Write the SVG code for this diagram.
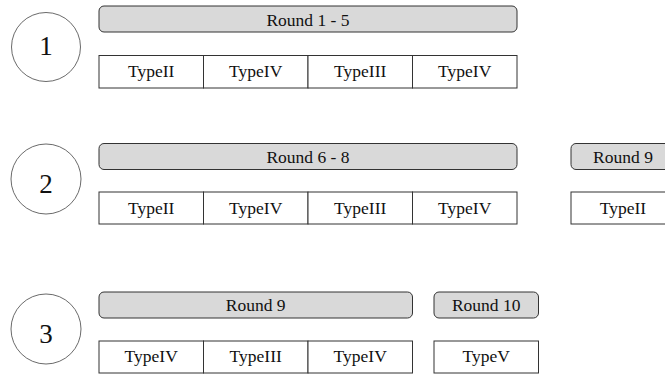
<svg xmlns="http://www.w3.org/2000/svg" width="665" height="375" viewBox="0 0 665 375">
<style>
.bar{fill:#d9d9d9;stroke:#333;stroke-width:1}
.cell{fill:#fff;stroke:#333;stroke-width:1}
.circ{fill:#fff;stroke:#444;stroke-width:0.8}
text{font-family:"Liberation Serif","Times New Roman",serif;fill:#111;text-anchor:middle}
.lbl{font-size:17.5px}
.num{font-size:27px}
</style>
<rect width="665" height="375" fill="#fff"/>
<g id="connectors"></g>
<g id="step1">
<circle class="circ" cx="46" cy="47" r="34.5"/>
<text class="num" x="46" y="55">1</text>
</g>
<g id="step2">
<circle class="circ" cx="46" cy="179" r="35"/>
<text class="num" x="46" y="193">2</text>
</g>
<g id="step3">
<circle class="circ" cx="46" cy="329" r="35"/>
<text class="num" x="46" y="343">3</text>
</g>
<g id="row1-bar">
<rect class="bar" x="99" y="6" width="418" height="26" rx="5"/>
<text class="lbl" x="308" y="26">Round 1 - 5</text>
</g>
<g id="row1-cells">
<rect class="cell" x="99" y="55.5" width="104.5" height="32.5"/>
<rect class="cell" x="203.5" y="55.5" width="104.5" height="32.5"/>
<rect class="cell" x="308" y="55.5" width="104.5" height="32.5"/>
<rect class="cell" x="412.5" y="55.5" width="104.5" height="32.5"/>
<text class="lbl" x="151.2" y="76.5">TypeII</text>
<text class="lbl" x="255.7" y="76.5">TypeIV</text>
<text class="lbl" x="360.2" y="76.5">TypeIII</text>
<text class="lbl" x="464.7" y="76.5">TypeIV</text>
</g>
<g id="row2-bar">
<rect class="bar" x="99" y="143.5" width="418" height="26" rx="5"/>
<text class="lbl" x="308" y="162.5">Round 6 - 8</text>
</g>
<g id="row2-cells">
<rect class="cell" x="99" y="192" width="104.5" height="32"/>
<rect class="cell" x="203.5" y="192" width="104.5" height="32"/>
<rect class="cell" x="308" y="192" width="104.5" height="32"/>
<rect class="cell" x="412.5" y="192" width="104.5" height="32"/>
<text class="lbl" x="151.2" y="213.5">TypeII</text>
<text class="lbl" x="255.7" y="213.5">TypeIV</text>
<text class="lbl" x="360.2" y="213.5">TypeIII</text>
<text class="lbl" x="464.7" y="213.5">TypeIV</text>
</g>
<g id="row2-round9">
<rect class="bar" x="571" y="143.5" width="104.5" height="26" rx="5"/>
<text class="lbl" x="623" y="162.5">Round 9</text>
<rect class="cell" x="571" y="192" width="104.5" height="32"/>
<text class="lbl" x="623" y="213.5">TypeII</text>
</g>
<g id="row3-bar">
<rect class="bar" x="99" y="292" width="313.5" height="26" rx="5"/>
<text class="lbl" x="255.7" y="311">Round 9</text>
</g>
<g id="row3-cells">
<rect class="cell" x="99" y="341" width="104.5" height="32"/>
<rect class="cell" x="203.5" y="341" width="104.5" height="32"/>
<rect class="cell" x="308" y="341" width="104.5" height="32"/>
<text class="lbl" x="151.2" y="362">TypeIV</text>
<text class="lbl" x="255.7" y="362">TypeIII</text>
<text class="lbl" x="360.2" y="362">TypeIV</text>
</g>
<g id="row3-round10">
<rect class="bar" x="434" y="292" width="104.5" height="26" rx="5"/>
<text class="lbl" x="486.2" y="311">Round 10</text>
<rect class="cell" x="434" y="341" width="104.5" height="32"/>
<text class="lbl" x="486.2" y="362">TypeV</text>
</g>
</svg>
